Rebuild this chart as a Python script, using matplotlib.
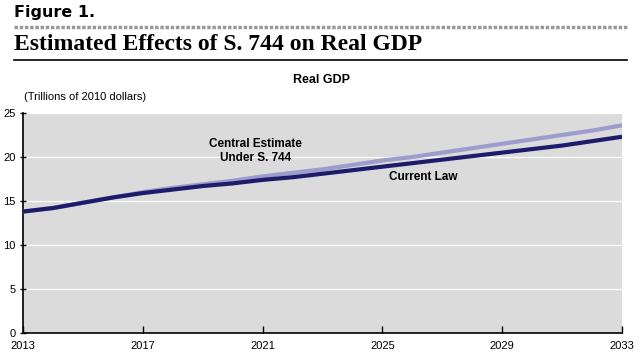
import matplotlib
matplotlib.use("Agg")
import matplotlib.pyplot as plt
from matplotlib.lines import Line2D

years = list(range(2013, 2034))
current_law = [13.8, 14.2, 14.8, 15.4, 15.9, 16.3, 16.7, 17.0, 17.4, 17.7, 18.1,
               18.5, 18.9, 19.3, 19.7, 20.1, 20.5, 20.9, 21.3, 21.8, 22.3]
s744 = [13.8, 14.2, 14.8, 15.4, 16.0, 16.5, 16.9, 17.3, 17.8, 18.2, 18.6,
        19.1, 19.6, 20.0, 20.5, 21.0, 21.5, 22.0, 22.5, 23.0, 23.6]
xticks = [2013, 2017, 2021, 2025, 2029, 2033]
yticks = [0, 5, 10, 15, 20, 25]

narrow = ['Liberation Sans', 'DejaVu Sans']

fig = plt.figure(figsize=(6.41, 3.57), dpi=100)
ax = fig.add_axes([23/641, 24/357, 599/641, 220/357])
ax.set_facecolor('#dbdbdb')

ax.plot(years, s744, color='#9c9ccd', lw=3.0, solid_capstyle='butt', zorder=3)
ax.plot(years, current_law, color='#1c1c6b', lw=3.0, solid_capstyle='butt', zorder=4)

ax.set_xlim(2013, 2033)
ax.set_ylim(0, 25)
ax.set_xticks(xticks)
ax.set_yticks(yticks)
ax.set_xticklabels([str(v) for v in xticks], family=narrow, fontsize=8)
ax.set_yticklabels([str(v) for v in yticks], family=narrow, fontsize=8)
ax.tick_params(axis='x', direction='in', length=5, width=1, pad=6)
ax.tick_params(axis='y', direction='inout', length=5, width=1, pad=3)
for s in ['top', 'right']:
    ax.spines[s].set_visible(False)
for s in ['left', 'bottom']:
    ax.spines[s].set_linewidth(1.2)
ax.grid(axis='y', color='white', lw=0.9, zorder=1)
ax.set_axisbelow(True)

ax.text(2020.75, 20.7, 'Central Estimate\nUnder S. 744', ha='center', va='center',
        family=narrow, fontsize=8.5, fontweight='bold', linespacing=1.15)
ax.text(2026.36, 17.7, 'Current Law', ha='center', va='center',
        family=narrow, fontsize=8.5, fontweight='bold')

fig.text(14/641, 1 - 12/357, 'Figure 1.', ha='left', va='center',
         fontsize=11.5, fontweight='heavy', family='DejaVu Sans')
fig.add_artist(Line2D([14/641, 627/641], [1 - 27/357] * 2, color='#999999', lw=2.5,
                      linestyle=(0, (1, 0.5))))
fig.text(14/641, 1 - 45/357, 'Estimated Effects of S. 744 on Real GDP', ha='left',
         va='center', fontsize=17, fontweight='bold', family='Liberation Serif')
fig.add_artist(Line2D([14/641, 627/641], [1 - 60/357] * 2, color='black', lw=1.2))
fig.text(322/641, 1 - 80/357, 'Real GDP', ha='center', va='center',
         fontsize=9, fontweight='bold', family=narrow)
fig.text(24/641, 1 - 97/357, '(Trillions of 2010 dollars)', ha='left', va='center',
         fontsize=8, family=narrow)

fig.savefig('out.png', dpi=100, facecolor='white')
